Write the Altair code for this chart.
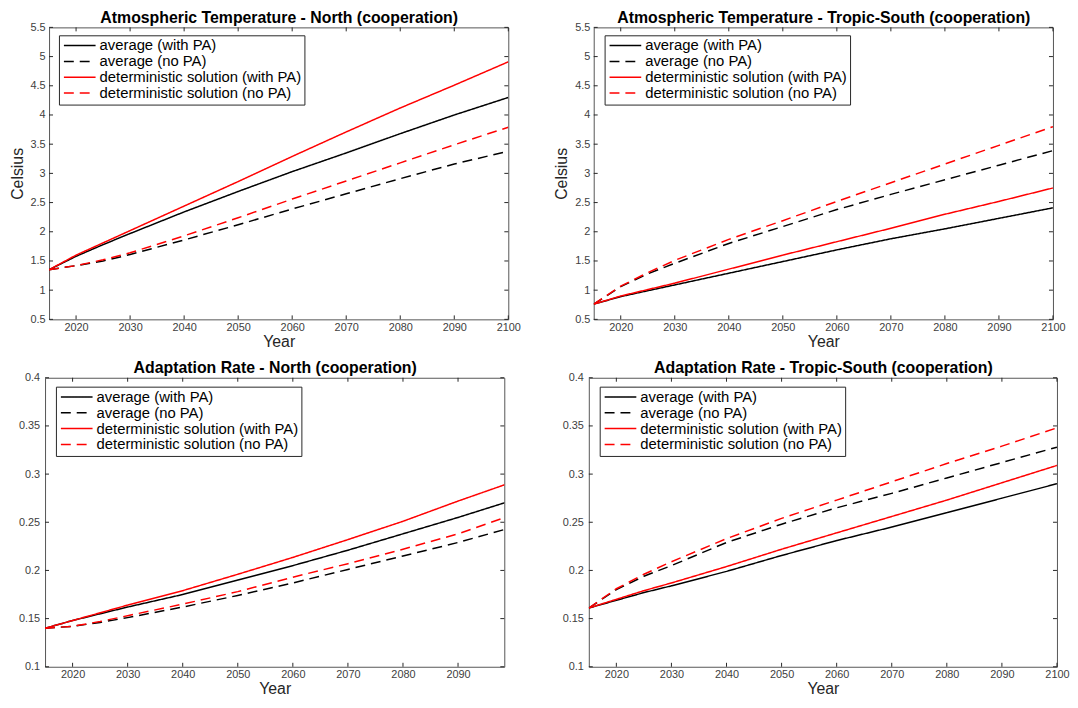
import altair as alt
import pandas as pd

FONT = "Liberation Sans"

SERIES = [
    "average (with PA)",
    "average (no PA)",
    "deterministic solution (with PA)",
    "deterministic solution (no PA)",
]
COLORS = ["#000000", "#000000", "#ff0000", "#ff0000"]
DASHES = [[1, 0], [10, 6], [1, 0], [10, 6]]

YEARS = [2015, 2020, 2025, 2030, 2040, 2050, 2060, 2070, 2080, 2090, 2100]

# Atmospheric Temperature - North
TN_avg_with = [1.35, 1.58, 1.78, 1.97, 2.34, 2.69, 3.03, 3.35, 3.68, 4.00, 4.30]
TN_avg_no = [1.35, 1.42, 1.50, 1.61, 1.86, 2.12, 2.39, 2.65, 2.91, 3.16, 3.38]
TN_det_with = [1.35, 1.60, 1.81, 2.02, 2.44, 2.86, 3.29, 3.71, 4.12, 4.51, 4.91]
TN_det_no = [1.35, 1.42, 1.52, 1.64, 1.93, 2.24, 2.56, 2.87, 3.18, 3.49, 3.79]

# Atmospheric Temperature - Tropic-South
TS_avg_with = [0.76, 0.89, 0.99, 1.09, 1.29, 1.49, 1.69, 1.88, 2.05, 2.23, 2.41]
TS_avg_no = [0.76, 1.06, 1.28, 1.46, 1.80, 2.09, 2.38, 2.64, 2.89, 3.14, 3.39]
TS_det_with = [0.76, 0.90, 1.01, 1.12, 1.36, 1.60, 1.83, 2.06, 2.30, 2.52, 2.75]
TS_det_no = [0.76, 1.07, 1.30, 1.51, 1.87, 2.19, 2.52, 2.84, 3.16, 3.48, 3.80]

# Adaptation Rate - North
AN_avg_with = [0.140, 0.148, 0.155, 0.162, 0.175, 0.190, 0.205, 0.221, 0.238, 0.255, 0.273]
AN_avg_no = [0.140, 0.142, 0.146, 0.151, 0.162, 0.174, 0.187, 0.201, 0.215, 0.229, 0.245]
AN_det_with = [0.140, 0.148, 0.156, 0.164, 0.179, 0.196, 0.2135, 0.232, 0.251, 0.272, 0.292]
AN_det_no = [0.140, 0.142, 0.147, 0.153, 0.165, 0.178, 0.193, 0.207, 0.222, 0.238, 0.258]

# Adaptation Rate - Tropic-South
AS_avg_with = [0.161, 0.169, 0.177, 0.184, 0.199, 0.2155, 0.231, 0.245, 0.260, 0.275, 0.290]
AS_avg_no = [0.161, 0.180, 0.194, 0.205, 0.229, 0.248, 0.265, 0.280, 0.296, 0.312, 0.328]
AS_det_with = [0.161, 0.170, 0.179, 0.187, 0.204, 0.222, 0.239, 0.256, 0.273, 0.291, 0.309]
AS_det_no = [0.161, 0.181, 0.196, 0.209, 0.233, 0.254, 0.273, 0.292, 0.311, 0.329, 0.348]

X_TICKS = [2020, 2030, 2040, 2050, 2060, 2070, 2080, 2090, 2100]
X_TICKS_CROPPED = [2020, 2030, 2040, 2050, 2060, 2070, 2080, 2090]
TEMP_TICKS = [0.5, 1, 1.5, 2, 2.5, 3, 3.5, 4, 4.5, 5, 5.5]
RATE_TICKS = [0.1, 0.15, 0.2, 0.25, 0.3, 0.35, 0.4]

TICK_LEN = 4
AXIS_GRAY = "#404040"
TICK_COLOR = "#262626"


def panel(title, vals, ydom, yticks, xdom, xticks, w, h, ytitle, lx, ly, ylabpad):
    rows = []
    for name, series in zip(SERIES, vals):
        for yr, v in zip(YEARS, series):
            rows.append({"year": yr, "value": v, "series": name})
    df = pd.DataFrame(rows)

    xscale = alt.Scale(domain=xdom, nice=False, zero=False)
    yscale = alt.Scale(domain=ydom, nice=False, zero=False)

    xaxis = alt.Axis(
        values=xticks, format="d", title="Year", tickSize=0, domain=False,
        grid=False, labelPadding=2, titlePadding=1, labelFontSize=11,
        titleFontSize=16, titleFontWeight="normal", labelColor=AXIS_GRAY,
        titleColor="#262626", labelFlush=False, labelOverlap=False,
    )
    title_axis = alt.Axis(
        orient="top", title=title, labels=False, ticks=False, domain=False,
        grid=False, titleFontSize=16, titleFontWeight="bold", titleColor="#000000",
        titlePadding=2, titleFont=FONT,
    )
    yargs = dict(
        values=yticks, format="~g", tickSize=0, domain=False, grid=False,
        labelPadding=ylabpad, labelFontSize=11, labelColor=AXIS_GRAY,
        labelFlush=False, labelOverlap=False,
    )
    if ytitle:
        yaxis = alt.Axis(title=ytitle, titlePadding=5, titleFontSize=16,
                         titleFontWeight="normal", titleColor="#262626", **yargs)
    else:
        yaxis = alt.Axis(title=None, **yargs)

    legend = alt.Legend(
        title=None, orient="none", legendX=lx, legendY=ly,
        symbolType="stroke", symbolSize=1024, symbolStrokeWidth=1.5,
        clipHeight=14.7, rowPadding=0, padding=3, symbolOffset=1,
        labelOffset=3, labelFontSize=15, labelFont=FONT, labelColor="#000000",
        labelLimit=400, strokeColor="#262626", fillColor="#ffffff",
        cornerRadius=0,
    )

    lines = alt.Chart(df).mark_line(strokeWidth=1.5, clip=True).encode(
        x=alt.X("year:Q", scale=xscale, axis=xaxis),
        y=alt.Y("value:Q", scale=yscale, axis=yaxis),
        color=alt.Color("series:N", scale=alt.Scale(domain=SERIES, range=COLORS),
                        legend=legend),
        strokeDash=alt.StrokeDash("series:N",
                                  scale=alt.Scale(domain=SERIES, range=DASHES),
                                  legend=legend),
    )

    xt = pd.DataFrame({"year": xticks})
    yt = pd.DataFrame({"value": yticks})
    rule = dict(color=TICK_COLOR, strokeWidth=1)
    bottom_ticks = alt.Chart(xt).mark_rule(**rule).encode(
        x=alt.X("year:Q", scale=xscale, axis=None), y=alt.value(h), y2=alt.value(h - TICK_LEN))
    top_ticks = alt.Chart(xt).mark_rule(**rule).encode(
        x=alt.X("year:Q", scale=xscale, axis=title_axis), y=alt.value(0), y2=alt.value(TICK_LEN))
    left_ticks = alt.Chart(yt).mark_rule(**rule).encode(
        y=alt.Y("value:Q", scale=yscale, axis=yaxis), x=alt.value(0), x2=alt.value(TICK_LEN))
    right_ticks = alt.Chart(yt).mark_rule(**rule).encode(
        y=alt.Y("value:Q", scale=yscale, axis=yaxis), x=alt.value(w), x2=alt.value(w - TICK_LEN))

    return (
        alt.layer(lines, bottom_ticks, top_ticks, left_ticks, right_ticks)
        .resolve_axis(x="independent")
        .properties(width=w, height=h)
    )


H1 = 295
H2 = 292

tl = panel("Atmospheric Temperature - North (cooperation)",
           [TN_avg_with, TN_avg_no, TN_det_with, TN_det_no],
           [0.5, 5.5], TEMP_TICKS, [2015, 2100], X_TICKS, 464, H1, "Celsius", 10, 8, 4)
tr = panel("Atmospheric Temperature - Tropic-South (cooperation)",
           [TS_avg_with, TS_avg_no, TS_det_with, TS_det_no],
           [0.5, 5.5], TEMP_TICKS, [2015, 2100], X_TICKS, 464, H1, "Celsius", 11, 8, 4)
bl = panel("Adaptation Rate - North (cooperation)",
           [AN_avg_with, AN_avg_no, AN_det_with, AN_det_no],
           [0.1, 0.4], RATE_TICKS, [2015, 2098.4], X_TICKS_CROPPED, 464, H2, None, 11, 9, 5.5)
br = panel("Adaptation Rate - Tropic-South (cooperation)",
           [AS_avg_with, AS_avg_no, AS_det_with, AS_det_no],
           [0.1, 0.4], RATE_TICKS, [2015, 2100], X_TICKS, 473, H2, None, 11, 9, 5.5)

RES = dict(color="independent", strokeDash="independent")

top = alt.hconcat(tl, tr, spacing=32.3).resolve_scale(**RES)
bottom = alt.hconcat(bl, br, spacing=56.4).resolve_scale(**RES)

chart = (
    alt.vconcat(top, bottom, spacing=9, center=True)
    .resolve_scale(**RES)
    .properties(padding={"left": 0, "top": -3, "right": 0, "bottom": 0})
    .configure_view(stroke="#555555", strokeWidth=1)
    .configure_axis(labelFont=FONT, titleFont=FONT, labelOverlap=False)
    .configure_legend(labelFont=FONT)
)

chart.save("out.html", embed_options={"renderer": "svg", "actions": False})
